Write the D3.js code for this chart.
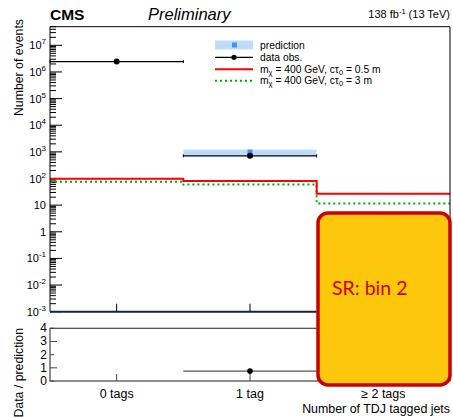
<!DOCTYPE html>
<html><head><meta charset="utf-8">
<script src="https://cdn.jsdelivr.net/npm/d3@7"></script>
<style>body{margin:0;background:#fff}svg{display:block;font-family:"Liberation Sans",Arial,sans-serif}</style>
</head><body><svg id="c" width="453" height="417"></svg>
<script>
const categories = ["0 tags", "1 tag", "\u2265 2 tags"];
const dataObs = [2.45e6, 710, null];
const prediction = [null, 950, null];
const predLow = [null, 720, null];
const predHigh = [null, 1220, null];
const sigA = [98, 80, 27];
const sigB = [75, 60, 11.5];
const ratio = [null, 0.75, null];
const ratioErr = [null, 0.15, null];
const yExpTicks = [-3, -2, -1, 0, 1, 2, 3, 4, 5, 6, 7];
const ratioTicks = [0, 1, 2, 3, 4];

const svg = d3.select("#c");
const L = 50, R = 450, T = 26.7, B = 311.7, RT = 328.3, RB = 381;
const x = d3.scaleLinear().domain([0, categories.length]).range([L, R]);
const y = d3.scaleLog().domain([1e-3, 5e7]).range([B, T]);
const yr = d3.scaleLinear().domain([0, 4]).range([RB, RT]);

const g = svg.append("g");
for (let e = -3; e <= 7; e++) {
  for (let m = 1; m <= 9; m++) {
    const v = m * Math.pow(10, e);
    if (v > 5e7) continue;
    const major = m === 1;
    g.append("line").attr("x1", L).attr("x2", L + (major ? 12 : 6))
      .attr("y1", y(v)).attr("y2", y(v)).attr("stroke", "#000").attr("stroke-width", 1);
  }
}
yExpTicks.forEach(e => {
  const t = g.append("text").attr("x", 46).attr("y", y(Math.pow(10, e)) + 4)
    .attr("text-anchor", "end").attr("font-size", 11);
  if (e === 0) t.text("1");
  else if (e === 1) t.text("10");
  else {
    t.append("tspan").text("10");
    t.append("tspan").attr("dy", -5).attr("font-size", 8).text(e);
  }
});

categories.forEach((c, i) => {
  g.append("line").attr("x1", x(i + 0.5)).attr("x2", x(i + 0.5)).attr("y1", B).attr("y2", B - 8).attr("stroke", "#000");
});

prediction.forEach((p, i) => {
  if (p == null) return;
  g.append("rect").attr("x", x(i)).attr("width", x(i + 1) - x(i))
    .attr("y", y(predHigh[i])).attr("height", y(predLow[i]) - y(predHigh[i])).attr("fill", "#bfdcfa");
  g.append("rect").attr("x", x(i + 0.5) - 2.5).attr("width", 5)
    .attr("y", y(p) - 3).attr("height", 6).attr("fill", "#3399ff");
});

function stepPath(vals) {
  const pts = [];
  vals.forEach((v, i) => { pts.push([x(i), y(v)]); pts.push([x(i + 1), y(v)]); });
  return d3.line()(pts);
}
g.append("path").attr("d", stepPath(sigB)).attr("fill", "none").attr("stroke", "#00aa00")
  .attr("stroke-width", 2).attr("stroke-dasharray", "2,3");
g.append("path").attr("d", stepPath(sigA)).attr("fill", "none").attr("stroke", "#ff0000").attr("stroke-width", 2);

dataObs.forEach((d, i) => {
  if (d == null) return;
  g.append("line").attr("x1", x(i)).attr("x2", x(i + 1)).attr("y1", y(d)).attr("y2", y(d)).attr("stroke", "#000").attr("stroke-width", 1.3);
  [x(i), x(i + 1)].forEach(xx => g.append("line").attr("x1", xx).attr("x2", xx).attr("y1", y(d) - 1.5).attr("y2", y(d) + 1.5).attr("stroke", "#000"));
  g.append("circle").attr("cx", x(i + 0.5)).attr("cy", y(d)).attr("r", 3).attr("fill", "#000");
});

g.append("path").attr("d", `M${L},${B}V${T}H${R}V${B}`).attr("fill", "none").attr("stroke", "#000").attr("stroke-width", 1);
g.append("line").attr("x1", L).attr("x2", R).attr("y1", B).attr("y2", B).attr("stroke", "#1c2340").attr("stroke-width", 2);

const lg = svg.append("g").attr("font-size", 10.3);
const lx1 = 215, lx2 = 253, tx = 260;
lg.append("rect").attr("x", lx1).attr("y", 40.5).attr("width", lx2 - lx1).attr("height", 9).attr("fill", "#bfdcfa");
lg.append("rect").attr("x", 232).attr("y", 42.5).attr("width", 5).attr("height", 5).attr("fill", "#3399ff");
lg.append("text").attr("x", tx).attr("y", 48.5).text("prediction");
lg.append("line").attr("x1", lx1).attr("x2", lx2).attr("y1", 57.3).attr("y2", 57.3).attr("stroke", "#000").attr("stroke-width", 1.3);
lg.append("circle").attr("cx", 234).attr("cy", 57.3).attr("r", 2.6).attr("fill", "#000");
lg.append("text").attr("x", tx).attr("y", 61).text("data obs.");
lg.append("line").attr("x1", lx1).attr("x2", lx2).attr("y1", 69.3).attr("y2", 69.3).attr("stroke", "#ff0000").attr("stroke-width", 2);
lg.append("line").attr("x1", lx1).attr("x2", lx2).attr("y1", 80.7).attr("y2", 80.7).attr("stroke", "#00aa00").attr("stroke-width", 2).attr("stroke-dasharray", "2,3");
function sigLabel(yy, ctau) {
  const t = lg.append("text").attr("x", tx).attr("y", yy);
  t.append("tspan").text("m");
  t.append("tspan").attr("dy", 2).attr("font-size", 7.5).text("\u03c7");
  t.append("tspan").attr("dy", -2).text(" = 400 GeV, c\u03c4");
  t.append("tspan").attr("dy", 2).attr("font-size", 7.5).text("0");
  t.append("tspan").attr("dy", -2).text(" = " + ctau + " m");
}
sigLabel(72.8, "0.5");
sigLabel(84.2, "3");

svg.append("text").attr("x", 50).attr("y", 20).attr("font-size", 15.5).attr("font-weight", "bold").text("CMS");
svg.append("text").attr("x", 148).attr("y", 20).attr("font-size", 16.5).attr("font-style", "italic").text("Preliminary");
const lum = svg.append("text").attr("x", 450).attr("y", 18).attr("font-size", 11).attr("text-anchor", "end");
lum.append("tspan").text("138 fb");
lum.append("tspan").attr("dy", -4).attr("font-size", 7.5).text("-1");
lum.append("tspan").attr("dy", 4).text(" (13 TeV)");

svg.append("text").attr("transform", "translate(23,19) rotate(-90)").attr("text-anchor", "end").attr("font-size", 12.3).text("Number of events");
svg.append("text").attr("transform", "translate(23,328) rotate(-90)").attr("text-anchor", "end").attr("font-size", 12.3).text("Data / prediction");

const rg = svg.append("g");
ratioTicks.forEach(v => {
  rg.append("line").attr("x1", L).attr("x2", L + (v % 2 === 1 ? 7 : 4)).attr("y1", yr(v)).attr("y2", yr(v)).attr("stroke", "#444");
  rg.append("text").attr("x", 47).attr("y", yr(v) + 4).attr("text-anchor", "end").attr("font-size", 12).text(v);
});
categories.forEach((c, i) => {
  rg.append("line").attr("x1", x(i + 0.5)).attr("x2", x(i + 0.5)).attr("y1", RB).attr("y2", RB - 7).attr("stroke", "#444");
});
ratio.forEach((r, i) => {
  if (r == null) return;
  rg.append("line").attr("x1", x(i)).attr("x2", x(i + 1)).attr("y1", yr(r)).attr("y2", yr(r)).attr("stroke", "#555").attr("stroke-width", 1.3);
  rg.append("line").attr("x1", x(i + 0.5)).attr("x2", x(i + 0.5)).attr("y1", yr(r - ratioErr[i])).attr("y2", yr(r + ratioErr[i])).attr("stroke", "#000").attr("stroke-width", 1.3);
  rg.append("circle").attr("cx", x(i + 0.5)).attr("cy", yr(r)).attr("r", 2.8).attr("fill", "#000");
});
rg.append("rect").attr("x", L).attr("y", RT).attr("width", R - L).attr("height", RB - RT).attr("fill", "none").attr("stroke", "#444").attr("stroke-width", 1.2);

categories.forEach((c, i) => {
  svg.append("text").attr("x", x(i + 0.5)).attr("y", 398).attr("text-anchor", "middle").attr("font-size", 12.5).text(c);
});
svg.append("text").attr("x", 450).attr("y", 413).attr("text-anchor", "end").attr("font-size", 12.4).text("Number of TDJ tagged jets");

svg.append("rect").attr("x", 318).attr("y", 213).attr("width", 132).attr("height", 172).attr("rx", 10).attr("ry", 10)
  .attr("fill", "#fdc70c").attr("stroke", "#cc0000").attr("stroke-width", 3.5);
svg.append("text").attr("x", 332).attr("y", 295).attr("font-size", 19.5).attr("fill", "#cc0000")
  .attr("font-family", "Lato, sans-serif").text("SR: bin 2");
</script></body></html>
